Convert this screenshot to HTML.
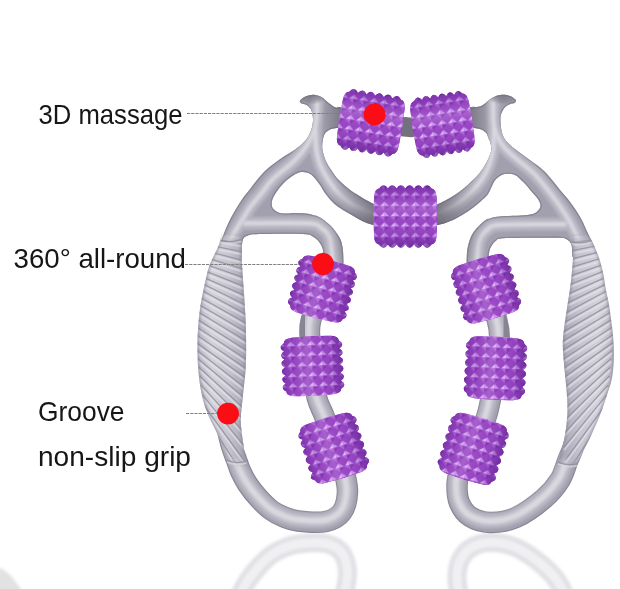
<!DOCTYPE html>
<html lang="en"><head><meta charset="utf-8"><title>Massage roller</title>
<style>html,body{margin:0;padding:0;background:#fff}body{width:620px;height:589px;overflow:hidden}svg{display:block}text{font-family:"Liberation Sans","DejaVu Sans",sans-serif;fill:#161616}</style></head><body>
<svg width="620" height="589" viewBox="0 0 620 589">
<defs>
<linearGradient id="gripgradL" x1="0" y1="0" x2="1" y2="0"><stop offset="0" stop-color="#b9b7c3"/><stop offset="0.28" stop-color="#d3d2da"/><stop offset="0.6" stop-color="#c6c4cf"/><stop offset="0.85" stop-color="#adabb9"/><stop offset="1" stop-color="#a09eac"/></linearGradient>
<linearGradient id="gripgradR" x1="1" y1="0" x2="0" y2="0"><stop offset="0" stop-color="#b9b7c3"/><stop offset="0.28" stop-color="#d3d2da"/><stop offset="0.6" stop-color="#c6c4cf"/><stop offset="0.85" stop-color="#adabb9"/><stop offset="1" stop-color="#a09eac"/></linearGradient>
<linearGradient id="gfade" gradientUnits="userSpaceOnUse" x1="0" y1="230" x2="0" y2="468"><stop offset="0" stop-color="#000"/><stop offset="0.012" stop-color="#000"/><stop offset="0.07" stop-color="#fff"/><stop offset="0.95" stop-color="#fff"/><stop offset="1" stop-color="#000"/></linearGradient>
<mask id="gripfade" maskUnits="userSpaceOnUse" x="180" y="220" width="440" height="260"><rect x="180" y="220" width="440" height="260" fill="url(#gfade)"/></mask>
<radialGradient id="udark" cx="0.5" cy="0.5" r="0.5"><stop offset="0" stop-color="#5e5c68" stop-opacity="0.75"/><stop offset="0.42" stop-color="#5e5c68" stop-opacity="0.7"/><stop offset="0.75" stop-color="#6a6874" stop-opacity="0.25"/><stop offset="1" stop-color="#6a6874" stop-opacity="0"/></radialGradient>
<radialGradient id="hdark" cx="0.5" cy="0.5" r="0.5"><stop offset="0" stop-color="#6a6874" stop-opacity="0.6"/><stop offset="0.6" stop-color="#6a6874" stop-opacity="0.35"/><stop offset="1" stop-color="#6a6874" stop-opacity="0"/></radialGradient>
<linearGradient id="stubL" x1="0" y1="0" x2="1" y2="0"><stop offset="0" stop-color="#65636f" stop-opacity="0"/><stop offset="0.8" stop-color="#65636f" stop-opacity="0.6"/><stop offset="1" stop-color="#65636f" stop-opacity="0.65"/></linearGradient>
<linearGradient id="stubR" x1="1" y1="0" x2="0" y2="0"><stop offset="0" stop-color="#65636f" stop-opacity="0"/><stop offset="0.8" stop-color="#65636f" stop-opacity="0.6"/><stop offset="1" stop-color="#65636f" stop-opacity="0.65"/></linearGradient>
<filter id="blur05" x="-10%" y="-10%" width="120%" height="120%"><feGaussianBlur stdDeviation="0.5"/></filter>
<filter id="soft" x="-5%" y="-5%" width="110%" height="110%"><feGaussianBlur stdDeviation="0.55"/></filter>
<filter id="blur1" x="-10%" y="-10%" width="120%" height="120%"><feGaussianBlur stdDeviation="1.3"/></filter>
<filter id="blur2" x="-10%" y="-10%" width="120%" height="120%"><feGaussianBlur stdDeviation="1.6"/></filter>
<pattern id="studs" x="-5.15" y="-5.15" width="10.30" height="10.30" patternUnits="userSpaceOnUse"><rect width="10.30" height="10.30" fill="#9643c0"/><path d="M5.15 0.4 L5.15 5.15 L0.4 5.15 Z" fill="#e5bdfb"/><path d="M5.15 0.4 L9.90 5.15 L5.15 5.15 Z" fill="#d098f0"/><path d="M0.4 5.15 L5.15 5.15 L5.15 9.90 Z" fill="#b462da"/><path d="M9.90 5.15 L5.15 9.90 L5.15 5.15 Z" fill="#8030ae"/></pattern>
<linearGradient id="cylh" x1="0" y1="0" x2="0" y2="1"><stop offset="0" stop-color="#5d2392" stop-opacity="0.55"/><stop offset="0.16" stop-color="#7d37af" stop-opacity="0.25"/><stop offset="0.38" stop-color="#e2c4f8" stop-opacity="0.22"/><stop offset="0.6" stop-color="#b57ee6" stop-opacity="0.05"/><stop offset="0.85" stop-color="#6a2a9e" stop-opacity="0.3"/><stop offset="1" stop-color="#521a84" stop-opacity="0.6"/></linearGradient>
<linearGradient id="cylv" x1="0" y1="0" x2="1" y2="0"><stop offset="0" stop-color="#5d2392" stop-opacity="0.5"/><stop offset="0.16" stop-color="#7d37af" stop-opacity="0.2"/><stop offset="0.42" stop-color="#e2c4f8" stop-opacity="0.22"/><stop offset="0.62" stop-color="#b57ee6" stop-opacity="0.05"/><stop offset="0.85" stop-color="#6a2a9e" stop-opacity="0.3"/><stop offset="1" stop-color="#521a84" stop-opacity="0.6"/></linearGradient>
</defs>
<rect width="620" height="589" fill="#ffffff"/>
<g filter="url(#blur2)" opacity="0.7">
<g transform="translate(0,1065) scale(1,-1)"><path d="M227.0 428.0 C227.8 431.0 229.9 440.7 231.5 446.0 C233.1 451.3 235.0 455.8 236.5 460.0 C238.0 464.2 238.7 467.0 240.5 471.0 C242.3 475.0 244.6 479.6 247.5 484.0 C250.4 488.4 254.1 493.2 258.0 497.5 C261.9 501.8 266.7 506.8 271.0 510.0 C275.3 513.2 279.5 515.2 284.0 517.0 C288.5 518.8 291.0 520.2 298.0 521.0 C305.0 521.8 318.7 523.0 326.0 521.5 C333.3 520.0 338.4 516.9 342.0 512.0 C345.6 507.1 347.2 499.0 347.5 492.0 C347.8 485.0 344.6 473.7 344.0 470.0" fill="none" stroke="#d4d3da" stroke-width="19" stroke-linecap="round"/><path d="M227.0 428.0 C227.8 431.0 229.9 440.7 231.5 446.0 C233.1 451.3 235.0 455.8 236.5 460.0 C238.0 464.2 238.7 467.0 240.5 471.0 C242.3 475.0 244.6 479.6 247.5 484.0 C250.4 488.4 254.1 493.2 258.0 497.5 C261.9 501.8 266.7 506.8 271.0 510.0 C275.3 513.2 279.5 515.2 284.0 517.0 C288.5 518.8 291.0 520.2 298.0 521.0 C305.0 521.8 318.7 523.0 326.0 521.5 C333.3 520.0 338.4 516.9 342.0 512.0 C345.6 507.1 347.2 499.0 347.5 492.0 C347.8 485.0 344.6 473.7 344.0 470.0" fill="none" stroke="#ebebef" stroke-width="9" stroke-linecap="round"/></g>
<g transform="translate(0,1065) scale(1,-1)"><path d="M578.0 432.0 C577.2 434.7 574.7 443.3 573.0 448.0 C571.3 452.7 570.2 454.7 568.0 460.0 C565.8 465.3 564.1 473.5 560.0 480.0 C555.9 486.5 550.8 492.8 543.5 499.0 C536.2 505.2 524.9 513.6 516.0 517.5 C507.1 521.4 497.7 522.7 490.0 522.5 C482.3 522.3 475.1 519.8 470.0 516.5 C464.9 513.2 461.7 508.2 459.5 503.0 C457.3 497.8 456.9 490.8 457.0 485.0 C457.1 479.2 459.5 470.8 460.0 468.0" fill="none" stroke="#d4d3da" stroke-width="19" stroke-linecap="round"/><path d="M578.0 432.0 C577.2 434.7 574.7 443.3 573.0 448.0 C571.3 452.7 570.2 454.7 568.0 460.0 C565.8 465.3 564.1 473.5 560.0 480.0 C555.9 486.5 550.8 492.8 543.5 499.0 C536.2 505.2 524.9 513.6 516.0 517.5 C507.1 521.4 497.7 522.7 490.0 522.5 C482.3 522.3 475.1 519.8 470.0 516.5 C464.9 513.2 461.7 508.2 459.5 503.0 C457.3 497.8 456.9 490.8 457.0 485.0 C457.1 479.2 459.5 470.8 460.0 468.0" fill="none" stroke="#ebebef" stroke-width="9" stroke-linecap="round"/></g>
</g>
<path d="M-2 591 L-2 567 Q10 571 22 591 Z" fill="#e2e2e2" filter="url(#blur2)"/>
<g filter="url(#soft)">
<path d="M336 116.5 L402 126.5 L411 127.5 L476 116" fill="none" stroke="#73717d" stroke-width="19.5"/>
<path d="M333.0 255.0 C331.2 260.8 325.7 279.2 322.0 290.0 C318.3 300.8 313.0 312.3 311.0 320.0 C309.0 327.7 309.6 328.3 309.8 336.0 C310.0 343.7 310.8 355.7 312.0 366.0 C313.2 376.3 314.8 389.3 317.0 398.0 C319.2 406.7 322.2 409.8 325.0 418.0 C327.8 426.2 331.0 438.3 334.0 447.0 C337.0 455.7 341.5 466.2 343.0 470.0" fill="none" stroke="#878593" stroke-width="21" stroke-linecap="butt"/>
<path d="M333.0 255.0 C331.2 260.8 325.7 279.2 322.0 290.0 C318.3 300.8 313.0 312.3 311.0 320.0 C309.0 327.7 309.6 328.3 309.8 336.0 C310.0 343.7 310.8 355.7 312.0 366.0 C313.2 376.3 314.8 389.3 317.0 398.0 C319.2 406.7 322.2 409.8 325.0 418.0 C327.8 426.2 331.0 438.3 334.0 447.0 C337.0 455.7 341.5 466.2 343.0 470.0" fill="none" stroke="#a2a0ae" stroke-width="18.8" stroke-linecap="butt" filter="url(#blur05)"/>
<g filter="url(#blur1)" transform="translate(-1,-1.5)"><path d="M333.0 255.0 C331.2 260.8 325.7 279.2 322.0 290.0 C318.3 300.8 313.0 312.3 311.0 320.0 C309.0 327.7 309.6 328.3 309.8 336.0 C310.0 343.7 310.8 355.7 312.0 366.0 C313.2 376.3 314.8 389.3 317.0 398.0 C319.2 406.7 322.2 409.8 325.0 418.0 C327.8 426.2 331.0 438.3 334.0 447.0 C337.0 455.7 341.5 466.2 343.0 470.0" fill="none" stroke="#b6b4c0" stroke-width="15" stroke-linecap="butt"/>
<path d="M333.0 255.0 C331.2 260.8 325.7 279.2 322.0 290.0 C318.3 300.8 313.0 312.3 311.0 320.0 C309.0 327.7 309.6 328.3 309.8 336.0 C310.0 343.7 310.8 355.7 312.0 366.0 C313.2 376.3 314.8 389.3 317.0 398.0 C319.2 406.7 322.2 409.8 325.0 418.0 C327.8 426.2 331.0 438.3 334.0 447.0 C337.0 455.7 341.5 466.2 343.0 470.0" fill="none" stroke="#cac8d2" stroke-width="8" stroke-linecap="butt"/>
<path d="M333.0 255.0 C331.2 260.8 325.7 279.2 322.0 290.0 C318.3 300.8 313.0 312.3 311.0 320.0 C309.0 327.7 309.6 328.3 309.8 336.0 C310.0 343.7 310.8 355.7 312.0 366.0 C313.2 376.3 314.8 389.3 317.0 398.0 C319.2 406.7 322.2 409.8 325.0 418.0 C327.8 426.2 331.0 438.3 334.0 447.0 C337.0 455.7 341.5 466.2 343.0 470.0" fill="none" stroke="#dad9e0" stroke-width="4" stroke-linecap="butt"/>
</g>
<path d="M227.0 428.0 C227.8 431.0 229.9 440.7 231.5 446.0 C233.1 451.3 235.0 455.8 236.5 460.0 C238.0 464.2 238.7 467.0 240.5 471.0 C242.3 475.0 244.6 479.6 247.5 484.0 C250.4 488.4 254.1 493.2 258.0 497.5 C261.9 501.8 266.7 506.8 271.0 510.0 C275.3 513.2 279.5 515.2 284.0 517.0 C288.5 518.8 291.0 520.2 298.0 521.0 C305.0 521.8 318.7 523.0 326.0 521.5 C333.3 520.0 338.4 516.9 342.0 512.0 C345.6 507.1 347.2 499.0 347.5 492.0 C347.8 485.0 344.6 473.7 344.0 470.0" fill="none" stroke="#878593" stroke-width="21.5" stroke-linecap="butt"/>
<path d="M227.0 428.0 C227.8 431.0 229.9 440.7 231.5 446.0 C233.1 451.3 235.0 455.8 236.5 460.0 C238.0 464.2 238.7 467.0 240.5 471.0 C242.3 475.0 244.6 479.6 247.5 484.0 C250.4 488.4 254.1 493.2 258.0 497.5 C261.9 501.8 266.7 506.8 271.0 510.0 C275.3 513.2 279.5 515.2 284.0 517.0 C288.5 518.8 291.0 520.2 298.0 521.0 C305.0 521.8 318.7 523.0 326.0 521.5 C333.3 520.0 338.4 516.9 342.0 512.0 C345.6 507.1 347.2 499.0 347.5 492.0 C347.8 485.0 344.6 473.7 344.0 470.0" fill="none" stroke="#a2a0ae" stroke-width="19.3" stroke-linecap="butt" filter="url(#blur05)"/>
<g filter="url(#blur1)" transform="translate(-1,-1.5)"><path d="M227.0 428.0 C227.8 431.0 229.9 440.7 231.5 446.0 C233.1 451.3 235.0 455.8 236.5 460.0 C238.0 464.2 238.7 467.0 240.5 471.0 C242.3 475.0 244.6 479.6 247.5 484.0 C250.4 488.4 254.1 493.2 258.0 497.5 C261.9 501.8 266.7 506.8 271.0 510.0 C275.3 513.2 279.5 515.2 284.0 517.0 C288.5 518.8 291.0 520.2 298.0 521.0 C305.0 521.8 318.7 523.0 326.0 521.5 C333.3 520.0 338.4 516.9 342.0 512.0 C345.6 507.1 347.2 499.0 347.5 492.0 C347.8 485.0 344.6 473.7 344.0 470.0" fill="none" stroke="#b6b4c0" stroke-width="15.5" stroke-linecap="butt"/>
<path d="M227.0 428.0 C227.8 431.0 229.9 440.7 231.5 446.0 C233.1 451.3 235.0 455.8 236.5 460.0 C238.0 464.2 238.7 467.0 240.5 471.0 C242.3 475.0 244.6 479.6 247.5 484.0 C250.4 488.4 254.1 493.2 258.0 497.5 C261.9 501.8 266.7 506.8 271.0 510.0 C275.3 513.2 279.5 515.2 284.0 517.0 C288.5 518.8 291.0 520.2 298.0 521.0 C305.0 521.8 318.7 523.0 326.0 521.5 C333.3 520.0 338.4 516.9 342.0 512.0 C345.6 507.1 347.2 499.0 347.5 492.0 C347.8 485.0 344.6 473.7 344.0 470.0" fill="none" stroke="#cac8d2" stroke-width="8.5" stroke-linecap="butt"/>
<path d="M227.0 428.0 C227.8 431.0 229.9 440.7 231.5 446.0 C233.1 451.3 235.0 455.8 236.5 460.0 C238.0 464.2 238.7 467.0 240.5 471.0 C242.3 475.0 244.6 479.6 247.5 484.0 C250.4 488.4 254.1 493.2 258.0 497.5 C261.9 501.8 266.7 506.8 271.0 510.0 C275.3 513.2 279.5 515.2 284.0 517.0 C288.5 518.8 291.0 520.2 298.0 521.0 C305.0 521.8 318.7 523.0 326.0 521.5 C333.3 520.0 338.4 516.9 342.0 512.0 C345.6 507.1 347.2 499.0 347.5 492.0 C347.8 485.0 344.6 473.7 344.0 470.0" fill="none" stroke="#dad9e0" stroke-width="4.5" stroke-linecap="butt"/>
</g>
<clipPath id="uc0"><path d="M342.0 107.5 C340.9 107.5 337.7 108.2 335.5 107.5 C333.3 106.8 331.4 105.0 329.0 103.2 C326.6 101.5 323.9 98.4 321.3 97.0 C318.7 95.6 316.1 94.8 313.5 94.7 C310.9 94.6 308.1 95.5 306.0 96.3 C303.9 97.1 302.2 98.4 301.2 99.3 C300.2 100.2 300.0 101.1 299.8 101.5 L299.8 101.5 C300.1 101.8 300.5 103.0 301.5 103.6 C302.5 104.1 304.4 103.8 306.0 104.8 C307.6 105.8 309.8 107.2 311.0 109.5 C312.2 111.8 312.9 115.5 313.0 118.7 C313.1 122.0 312.7 125.5 311.5 129.0 C310.3 132.6 308.8 136.5 306.0 140.0 C303.2 143.5 298.7 146.9 294.5 150.0 C290.3 153.1 286.1 154.8 281.0 158.5 C275.9 162.2 269.0 167.1 264.0 172.0 C259.0 176.9 254.8 183.1 250.9 188.0 C247.0 192.9 244.1 196.3 240.7 201.4 C237.3 206.5 233.4 213.1 230.5 218.7 C227.6 224.3 225.3 230.3 223.4 235.0 C221.5 239.7 220.4 243.2 219.0 247.0 C217.6 250.8 215.7 256.2 215.0 258.0 L215.0 258.0 C219.5 258.0 237.5 258.0 242.0 258.0 L242.0 258.0 C242.1 255.2 241.5 244.8 242.5 241.0 C243.5 237.2 244.8 236.7 248.0 235.5 C251.2 234.3 252.8 234.2 262.0 234.0 C271.2 233.8 294.4 233.5 303.0 234.0 C311.6 234.5 310.7 235.3 313.6 237.0 C316.5 238.7 318.8 241.2 320.5 243.9 C322.2 246.6 323.0 249.0 323.6 253.0 C324.2 257.0 323.9 265.5 324.0 268.0 L324.0 268.0 C327.2 268.0 340.2 268.0 343.4 268.0 L343.4 268.0 C343.4 266.8 343.5 263.9 343.4 260.7 C343.3 257.4 343.3 252.3 342.7 248.5 C342.1 244.7 341.7 241.6 339.6 237.8 C337.6 234.0 333.7 229.0 330.4 225.6 C327.1 222.2 322.9 219.2 320.0 217.4 C317.1 215.6 315.4 215.6 313.0 214.9 C310.6 214.2 308.7 213.7 305.8 213.4 C302.9 213.1 299.0 212.9 295.6 212.9 C292.2 212.9 288.4 213.5 285.5 213.4 C282.6 213.3 280.4 213.2 278.3 212.4 C276.2 211.6 274.3 210.2 273.2 208.8 C272.1 207.4 271.7 205.6 271.7 203.7 C271.7 201.8 272.1 200.0 273.2 197.6 C274.3 195.2 276.2 192.1 278.3 189.4 C280.4 186.7 282.9 183.7 285.5 181.3 C288.1 178.9 291.1 176.7 293.6 175.2 C296.1 173.7 298.5 172.5 300.7 172.1 C302.9 171.7 304.8 171.9 306.8 172.6 C308.9 173.3 310.9 174.2 313.0 176.2 C315.1 178.2 317.6 181.7 319.7 184.6 C321.8 187.5 323.1 190.5 325.3 193.5 C327.5 196.5 330.4 200.0 333.0 202.5 C335.6 205.0 337.2 206.2 340.8 208.5 C344.4 210.8 350.2 214.1 354.3 216.4 C358.4 218.7 361.4 220.7 365.7 222.5 C370.0 224.3 377.6 226.2 380.0 227.0 L380.0 227.0 C380.0 223.5 380.0 209.5 380.0 206.0 L380.0 206.0 C379.0 205.7 375.8 204.9 373.9 204.2 C372.0 203.5 371.0 202.8 368.8 201.6 C366.6 200.4 363.7 198.7 360.6 196.8 C357.6 194.9 354.1 193.1 350.5 190.3 C346.9 187.6 342.2 183.6 339.0 180.3 C335.8 177.0 333.8 173.8 331.5 170.4 C329.2 167.1 327.0 163.6 325.5 160.2 C324.0 156.8 323.0 152.7 322.5 150.0 C322.0 147.3 322.2 145.8 322.3 144.0 C322.4 142.2 322.6 140.8 323.0 139.0 C323.4 137.2 323.9 135.0 325.0 133.5 C326.1 132.0 327.8 130.7 329.5 129.8 C331.2 128.9 332.9 128.6 335.0 128.2 C337.1 127.8 340.8 127.6 342.0 127.5 Z"/></clipPath>
<path d="M342.0 107.5 C340.9 107.5 337.7 108.2 335.5 107.5 C333.3 106.8 331.4 105.0 329.0 103.2 C326.6 101.5 323.9 98.4 321.3 97.0 C318.7 95.6 316.1 94.8 313.5 94.7 C310.9 94.6 308.1 95.5 306.0 96.3 C303.9 97.1 302.2 98.4 301.2 99.3 C300.2 100.2 300.0 101.1 299.8 101.5 L299.8 101.5 C300.1 101.8 300.5 103.0 301.5 103.6 C302.5 104.1 304.4 103.8 306.0 104.8 C307.6 105.8 309.8 107.2 311.0 109.5 C312.2 111.8 312.9 115.5 313.0 118.7 C313.1 122.0 312.7 125.5 311.5 129.0 C310.3 132.6 308.8 136.5 306.0 140.0 C303.2 143.5 298.7 146.9 294.5 150.0 C290.3 153.1 286.1 154.8 281.0 158.5 C275.9 162.2 269.0 167.1 264.0 172.0 C259.0 176.9 254.8 183.1 250.9 188.0 C247.0 192.9 244.1 196.3 240.7 201.4 C237.3 206.5 233.4 213.1 230.5 218.7 C227.6 224.3 225.3 230.3 223.4 235.0 C221.5 239.7 220.4 243.2 219.0 247.0 C217.6 250.8 215.7 256.2 215.0 258.0 L215.0 258.0 C219.5 258.0 237.5 258.0 242.0 258.0 L242.0 258.0 C242.1 255.2 241.5 244.8 242.5 241.0 C243.5 237.2 244.8 236.7 248.0 235.5 C251.2 234.3 252.8 234.2 262.0 234.0 C271.2 233.8 294.4 233.5 303.0 234.0 C311.6 234.5 310.7 235.3 313.6 237.0 C316.5 238.7 318.8 241.2 320.5 243.9 C322.2 246.6 323.0 249.0 323.6 253.0 C324.2 257.0 323.9 265.5 324.0 268.0 L324.0 268.0 C327.2 268.0 340.2 268.0 343.4 268.0 L343.4 268.0 C343.4 266.8 343.5 263.9 343.4 260.7 C343.3 257.4 343.3 252.3 342.7 248.5 C342.1 244.7 341.7 241.6 339.6 237.8 C337.6 234.0 333.7 229.0 330.4 225.6 C327.1 222.2 322.9 219.2 320.0 217.4 C317.1 215.6 315.4 215.6 313.0 214.9 C310.6 214.2 308.7 213.7 305.8 213.4 C302.9 213.1 299.0 212.9 295.6 212.9 C292.2 212.9 288.4 213.5 285.5 213.4 C282.6 213.3 280.4 213.2 278.3 212.4 C276.2 211.6 274.3 210.2 273.2 208.8 C272.1 207.4 271.7 205.6 271.7 203.7 C271.7 201.8 272.1 200.0 273.2 197.6 C274.3 195.2 276.2 192.1 278.3 189.4 C280.4 186.7 282.9 183.7 285.5 181.3 C288.1 178.9 291.1 176.7 293.6 175.2 C296.1 173.7 298.5 172.5 300.7 172.1 C302.9 171.7 304.8 171.9 306.8 172.6 C308.9 173.3 310.9 174.2 313.0 176.2 C315.1 178.2 317.6 181.7 319.7 184.6 C321.8 187.5 323.1 190.5 325.3 193.5 C327.5 196.5 330.4 200.0 333.0 202.5 C335.6 205.0 337.2 206.2 340.8 208.5 C344.4 210.8 350.2 214.1 354.3 216.4 C358.4 218.7 361.4 220.7 365.7 222.5 C370.0 224.3 377.6 226.2 380.0 227.0 L380.0 227.0 C380.0 223.5 380.0 209.5 380.0 206.0 L380.0 206.0 C379.0 205.7 375.8 204.9 373.9 204.2 C372.0 203.5 371.0 202.8 368.8 201.6 C366.6 200.4 363.7 198.7 360.6 196.8 C357.6 194.9 354.1 193.1 350.5 190.3 C346.9 187.6 342.2 183.6 339.0 180.3 C335.8 177.0 333.8 173.8 331.5 170.4 C329.2 167.1 327.0 163.6 325.5 160.2 C324.0 156.8 323.0 152.7 322.5 150.0 C322.0 147.3 322.2 145.8 322.3 144.0 C322.4 142.2 322.6 140.8 323.0 139.0 C323.4 137.2 323.9 135.0 325.0 133.5 C326.1 132.0 327.8 130.7 329.5 129.8 C331.2 128.9 332.9 128.6 335.0 128.2 C337.1 127.8 340.8 127.6 342.0 127.5 Z" fill="#a2a0ae"/>
<g clip-path="url(#uc0)"><path d="M342.0 107.5 C340.9 107.5 337.7 108.2 335.5 107.5 C333.3 106.8 331.4 105.0 329.0 103.2 C326.6 101.5 323.9 98.4 321.3 97.0 C318.7 95.6 316.1 94.8 313.5 94.7 C310.9 94.6 308.1 95.5 306.0 96.3 C303.9 97.1 302.2 98.4 301.2 99.3 C300.2 100.2 300.0 101.1 299.8 101.5 L299.8 101.5 C300.1 101.8 300.5 103.0 301.5 103.6 C302.5 104.1 304.4 103.8 306.0 104.8 C307.6 105.8 309.8 107.2 311.0 109.5 C312.2 111.8 312.9 115.5 313.0 118.7 C313.1 122.0 312.7 125.5 311.5 129.0 C310.3 132.6 308.8 136.5 306.0 140.0 C303.2 143.5 298.7 146.9 294.5 150.0 C290.3 153.1 286.1 154.8 281.0 158.5 C275.9 162.2 269.0 167.1 264.0 172.0 C259.0 176.9 254.8 183.1 250.9 188.0 C247.0 192.9 244.1 196.3 240.7 201.4 C237.3 206.5 233.4 213.1 230.5 218.7 C227.6 224.3 225.3 230.3 223.4 235.0 C221.5 239.7 220.4 243.2 219.0 247.0 C217.6 250.8 215.7 256.2 215.0 258.0 L215.0 258.0 C219.5 258.0 237.5 258.0 242.0 258.0 L242.0 258.0 C242.1 255.2 241.5 244.8 242.5 241.0 C243.5 237.2 244.8 236.7 248.0 235.5 C251.2 234.3 252.8 234.2 262.0 234.0 C271.2 233.8 294.4 233.5 303.0 234.0 C311.6 234.5 310.7 235.3 313.6 237.0 C316.5 238.7 318.8 241.2 320.5 243.9 C322.2 246.6 323.0 249.0 323.6 253.0 C324.2 257.0 323.9 265.5 324.0 268.0 L324.0 268.0 C327.2 268.0 340.2 268.0 343.4 268.0 L343.4 268.0 C343.4 266.8 343.5 263.9 343.4 260.7 C343.3 257.4 343.3 252.3 342.7 248.5 C342.1 244.7 341.7 241.6 339.6 237.8 C337.6 234.0 333.7 229.0 330.4 225.6 C327.1 222.2 322.9 219.2 320.0 217.4 C317.1 215.6 315.4 215.6 313.0 214.9 C310.6 214.2 308.7 213.7 305.8 213.4 C302.9 213.1 299.0 212.9 295.6 212.9 C292.2 212.9 288.4 213.5 285.5 213.4 C282.6 213.3 280.4 213.2 278.3 212.4 C276.2 211.6 274.3 210.2 273.2 208.8 C272.1 207.4 271.7 205.6 271.7 203.7 C271.7 201.8 272.1 200.0 273.2 197.6 C274.3 195.2 276.2 192.1 278.3 189.4 C280.4 186.7 282.9 183.7 285.5 181.3 C288.1 178.9 291.1 176.7 293.6 175.2 C296.1 173.7 298.5 172.5 300.7 172.1 C302.9 171.7 304.8 171.9 306.8 172.6 C308.9 173.3 310.9 174.2 313.0 176.2 C315.1 178.2 317.6 181.7 319.7 184.6 C321.8 187.5 323.1 190.5 325.3 193.5 C327.5 196.5 330.4 200.0 333.0 202.5 C335.6 205.0 337.2 206.2 340.8 208.5 C344.4 210.8 350.2 214.1 354.3 216.4 C358.4 218.7 361.4 220.7 365.7 222.5 C370.0 224.3 377.6 226.2 380.0 227.0 L380.0 227.0 C380.0 223.5 380.0 209.5 380.0 206.0 L380.0 206.0 C379.0 205.7 375.8 204.9 373.9 204.2 C372.0 203.5 371.0 202.8 368.8 201.6 C366.6 200.4 363.7 198.7 360.6 196.8 C357.6 194.9 354.1 193.1 350.5 190.3 C346.9 187.6 342.2 183.6 339.0 180.3 C335.8 177.0 333.8 173.8 331.5 170.4 C329.2 167.1 327.0 163.6 325.5 160.2 C324.0 156.8 323.0 152.7 322.5 150.0 C322.0 147.3 322.2 145.8 322.3 144.0 C322.4 142.2 322.6 140.8 323.0 139.0 C323.4 137.2 323.9 135.0 325.0 133.5 C326.1 132.0 327.8 130.7 329.5 129.8 C331.2 128.9 332.9 128.6 335.0 128.2 C337.1 127.8 340.8 127.6 342.0 127.5 Z" fill="none" stroke="#878593" stroke-width="2.6" filter="url(#blur05)"/><g filter="url(#blur1)" transform="translate(-0.8,-1.2)">
<path d="M318.0 104.0 C317.7 108.0 317.7 121.0 316.0 128.0 C314.3 135.0 311.5 140.3 308.0 146.0 C304.5 151.7 300.8 156.2 295.0 162.0 C289.2 167.8 278.5 175.5 273.0 181.0 C267.5 186.5 265.5 190.7 262.0 195.0 C258.5 199.3 255.2 202.7 252.0 207.0 C248.8 211.3 245.8 216.5 243.0 221.0 C240.2 225.5 237.3 229.8 235.0 234.0 C232.7 238.2 230.0 244.0 229.0 246.0" fill="none" stroke="#b6b4c0" stroke-width="13" stroke-linecap="round"/>
<path d="M316.0 128.0 C316.2 131.7 316.2 143.7 317.0 150.0 C317.8 156.3 319.0 160.8 321.0 166.0 C323.0 171.2 325.8 176.2 329.0 181.0 C332.2 185.8 335.7 190.8 340.0 195.0 C344.3 199.2 348.3 202.9 355.0 206.5 C361.7 210.1 375.8 214.8 380.0 216.5" fill="none" stroke="#b6b4c0" stroke-width="13" stroke-linecap="round"/>
<path d="M246.0 224.5 C256.3 224.5 295.3 223.8 308.0 224.5 C320.7 225.2 318.2 226.4 322.0 229.0 C325.8 231.6 329.1 233.8 331.0 240.0 C332.9 246.2 333.2 261.7 333.7 266.0" fill="none" stroke="#b6b4c0" stroke-width="13" stroke-linecap="round"/>
<path d="M318.0 104.0 C317.7 108.0 317.7 121.0 316.0 128.0 C314.3 135.0 311.5 140.3 308.0 146.0 C304.5 151.7 300.8 156.2 295.0 162.0 C289.2 167.8 278.5 175.5 273.0 181.0 C267.5 186.5 265.5 190.7 262.0 195.0 C258.5 199.3 255.2 202.7 252.0 207.0 C248.8 211.3 245.8 216.5 243.0 221.0 C240.2 225.5 237.3 229.8 235.0 234.0 C232.7 238.2 230.0 244.0 229.0 246.0" fill="none" stroke="#cac8d2" stroke-width="6" stroke-linecap="round"/>
<path d="M316.0 128.0 C316.2 131.7 316.2 143.7 317.0 150.0 C317.8 156.3 319.0 160.8 321.0 166.0 C323.0 171.2 325.8 176.2 329.0 181.0 C332.2 185.8 335.7 190.8 340.0 195.0 C344.3 199.2 348.3 202.9 355.0 206.5 C361.7 210.1 375.8 214.8 380.0 216.5" fill="none" stroke="#cac8d2" stroke-width="6" stroke-linecap="round"/>
<path d="M246.0 224.5 C256.3 224.5 295.3 223.8 308.0 224.5 C320.7 225.2 318.2 226.4 322.0 229.0 C325.8 231.6 329.1 233.8 331.0 240.0 C332.9 246.2 333.2 261.7 333.7 266.0" fill="none" stroke="#cac8d2" stroke-width="6" stroke-linecap="round"/>
<path d="M318.0 104.0 C317.7 108.0 317.7 121.0 316.0 128.0 C314.3 135.0 311.5 140.3 308.0 146.0 C304.5 151.7 300.8 156.2 295.0 162.0 C289.2 167.8 278.5 175.5 273.0 181.0 C267.5 186.5 265.5 190.7 262.0 195.0 C258.5 199.3 255.2 202.7 252.0 207.0 C248.8 211.3 245.8 216.5 243.0 221.0 C240.2 225.5 237.3 229.8 235.0 234.0 C232.7 238.2 230.0 244.0 229.0 246.0" fill="none" stroke="#dad9e0" stroke-width="2.5" stroke-linecap="round"/>
<path d="M316.0 128.0 C316.2 131.7 316.2 143.7 317.0 150.0 C317.8 156.3 319.0 160.8 321.0 166.0 C323.0 171.2 325.8 176.2 329.0 181.0 C332.2 185.8 335.7 190.8 340.0 195.0 C344.3 199.2 348.3 202.9 355.0 206.5 C361.7 210.1 375.8 214.8 380.0 216.5" fill="none" stroke="#dad9e0" stroke-width="2.5" stroke-linecap="round"/>
<path d="M246.0 224.5 C256.3 224.5 295.3 223.8 308.0 224.5 C320.7 225.2 318.2 226.4 322.0 229.0 C325.8 231.6 329.1 233.8 331.0 240.0 C332.9 246.2 333.2 261.7 333.7 266.0" fill="none" stroke="#dad9e0" stroke-width="2.5" stroke-linecap="round"/>
</g><circle cx="405.5" cy="222" r="80" fill="url(#udark)"/><ellipse cx="311" cy="96" rx="17" ry="9" fill="url(#hdark)"/><rect x="322" y="100" width="22" height="34" fill="url(#stubL)"/></g>
<clipPath id="gc0"><path d="M222.0 232.0 C221.4 234.2 220.7 239.8 218.6 245.4 C216.5 251.0 211.8 258.9 209.4 265.7 C207.0 272.5 205.8 279.2 204.3 286.0 C202.8 292.8 201.3 299.7 200.3 306.5 C199.3 313.3 198.7 320.4 198.2 326.8 C197.7 333.2 197.5 338.5 197.5 345.0 C197.5 351.5 197.5 358.8 198.0 366.0 C198.5 373.2 199.4 381.5 200.5 388.0 C201.6 394.5 202.8 399.7 204.5 405.0 C206.2 410.3 207.8 414.1 210.5 420.0 C213.2 425.9 217.7 433.9 220.5 440.7 C223.3 447.5 225.9 456.1 227.6 461.0 C229.3 465.9 230.0 468.5 230.5 470.0 L250.0 470.0 C249.3 468.5 247.2 465.9 246.0 461.0 C244.8 456.1 243.8 447.5 242.9 440.7 C242.0 433.9 240.8 427.6 240.8 420.0 C240.8 412.4 242.2 404.0 243.0 395.0 C243.8 386.0 245.3 376.5 245.8 366.0 C246.3 355.5 246.2 343.3 246.0 332.0 C245.8 320.7 245.0 309.3 244.3 298.0 C243.6 286.7 242.5 272.8 242.0 264.0 C241.5 255.2 241.7 250.3 241.5 245.0 C241.3 239.7 241.1 234.2 241.0 232.0Z"/></clipPath>
<g mask="url(#gripfade)">
<path d="M222.0 232.0 C221.4 234.2 220.7 239.8 218.6 245.4 C216.5 251.0 211.8 258.9 209.4 265.7 C207.0 272.5 205.8 279.2 204.3 286.0 C202.8 292.8 201.3 299.7 200.3 306.5 C199.3 313.3 198.7 320.4 198.2 326.8 C197.7 333.2 197.5 338.5 197.5 345.0 C197.5 351.5 197.5 358.8 198.0 366.0 C198.5 373.2 199.4 381.5 200.5 388.0 C201.6 394.5 202.8 399.7 204.5 405.0 C206.2 410.3 207.8 414.1 210.5 420.0 C213.2 425.9 217.7 433.9 220.5 440.7 C223.3 447.5 225.9 456.1 227.6 461.0 C229.3 465.9 230.0 468.5 230.5 470.0 L250.0 470.0 C249.3 468.5 247.2 465.9 246.0 461.0 C244.8 456.1 243.8 447.5 242.9 440.7 C242.0 433.9 240.8 427.6 240.8 420.0 C240.8 412.4 242.2 404.0 243.0 395.0 C243.8 386.0 245.3 376.5 245.8 366.0 C246.3 355.5 246.2 343.3 246.0 332.0 C245.8 320.7 245.0 309.3 244.3 298.0 C243.6 286.7 242.5 272.8 242.0 264.0 C241.5 255.2 241.7 250.3 241.5 245.0 C241.3 239.7 241.1 234.2 241.0 232.0Z" fill="url(#gripgradL)"/>
<g clip-path="url(#gc0)"><g filter="url(#blur05)">
<path d="M189.8 226.3 L257.7 231.3 M190.0 232.4 L257.5 239.8 M190.1 238.6 L257.4 248.4 M190.4 244.2 L257.1 257.5 M190.8 249.9 L256.7 266.6 M191.2 255.9 L256.3 275.7 M191.6 262.3 L255.9 284.6 M192.1 268.7 L255.4 293.6 M192.7 275.3 L254.8 302.8 M193.3 282.0 L254.2 312.0 M193.8 289.0 L253.7 321.2 M194.1 296.8 L253.4 330.0 M194.4 304.7 L253.1 338.9 M194.7 312.6 L252.8 347.9 M195.0 320.7 L252.5 356.9 M195.3 328.8 L252.2 366.0 M195.6 337.0 L251.9 375.3 M196.1 345.2 L251.4 384.7 M196.9 353.1 L250.6 394.8 M197.7 361.3 L249.8 405.1 M198.7 369.7 L248.8 415.7 M199.7 378.6 L247.8 426.6 M200.9 387.7 L246.6 438.1 M202.2 397.4 L245.3 450.1 M203.7 407.8 L243.8 462.8 M205.1 419.3 L242.4 476.2 M206.1 432.0 L241.4 490.1 M207.2 445.4 L240.3 504.8" stroke="#e6e5eb" stroke-width="2.2" fill="none" opacity="0.6"/>
<path d="M189.8 223.5 L257.7 228.5 M190.0 229.6 L257.5 237.0 M190.1 235.8 L257.4 245.6 M190.4 241.4 L257.1 254.7 M190.8 247.1 L256.7 263.8 M191.2 253.1 L256.3 272.9 M191.6 259.5 L255.9 281.8 M192.1 265.9 L255.4 290.8 M192.7 272.5 L254.8 300.0 M193.3 279.2 L254.2 309.2 M193.8 286.2 L253.7 318.4 M194.1 294.0 L253.4 327.2 M194.4 301.9 L253.1 336.1 M194.7 309.8 L252.8 345.1 M195.0 317.9 L252.5 354.1 M195.3 326.0 L252.2 363.2 M195.6 334.2 L251.9 372.5 M196.1 342.4 L251.4 381.9 M196.9 350.3 L250.6 392.0 M197.7 358.5 L249.8 402.3 M198.7 366.9 L248.8 412.9 M199.7 375.8 L247.8 423.8 M200.9 384.9 L246.6 435.3 M202.2 394.6 L245.3 447.3 M203.7 405.0 L243.8 460.0 M205.1 416.5 L242.4 473.4 M206.1 429.2 L241.4 487.3 M207.2 442.6 L240.3 502.0" stroke="#8f8d9c" stroke-width="1.3" fill="none" opacity="0.8"/>
</g>
<path d="M222.0 232.0 C221.4 234.2 220.7 239.8 218.6 245.4 C216.5 251.0 211.8 258.9 209.4 265.7 C207.0 272.5 205.8 279.2 204.3 286.0 C202.8 292.8 201.3 299.7 200.3 306.5 C199.3 313.3 198.7 320.4 198.2 326.8 C197.7 333.2 197.5 338.5 197.5 345.0 C197.5 351.5 197.5 358.8 198.0 366.0 C198.5 373.2 199.4 381.5 200.5 388.0 C201.6 394.5 202.8 399.7 204.5 405.0 C206.2 410.3 207.8 414.1 210.5 420.0 C213.2 425.9 217.7 433.9 220.5 440.7 C223.3 447.5 225.9 456.1 227.6 461.0 C229.3 465.9 230.0 468.5 230.5 470.0 L250.0 470.0 C249.3 468.5 247.2 465.9 246.0 461.0 C244.8 456.1 243.8 447.5 242.9 440.7 C242.0 433.9 240.8 427.6 240.8 420.0 C240.8 412.4 242.2 404.0 243.0 395.0 C243.8 386.0 245.3 376.5 245.8 366.0 C246.3 355.5 246.2 343.3 246.0 332.0 C245.8 320.7 245.0 309.3 244.3 298.0 C243.6 286.7 242.5 272.8 242.0 264.0 C241.5 255.2 241.7 250.3 241.5 245.0 C241.3 239.7 241.1 234.2 241.0 232.0Z" fill="none" stroke="#878593" stroke-width="3" opacity="0.6" filter="url(#blur1)"/>
</g>
</g>
<path d="M477.5 250.0 C477.8 253.3 478.1 263.7 479.5 270.0 C480.9 276.3 483.1 279.7 486.0 288.0 C488.9 296.3 494.8 311.8 497.0 320.0 C499.2 328.2 499.5 329.2 499.5 337.0 C499.5 344.8 498.5 356.5 497.0 367.0 C495.5 377.5 492.3 391.5 490.5 400.0 C488.7 408.5 488.8 410.2 486.0 418.0 C483.2 425.8 477.5 438.3 473.5 447.0 C469.5 455.7 463.9 466.2 462.0 470.0" fill="none" stroke="#878593" stroke-width="21" stroke-linecap="butt"/>
<path d="M477.5 250.0 C477.8 253.3 478.1 263.7 479.5 270.0 C480.9 276.3 483.1 279.7 486.0 288.0 C488.9 296.3 494.8 311.8 497.0 320.0 C499.2 328.2 499.5 329.2 499.5 337.0 C499.5 344.8 498.5 356.5 497.0 367.0 C495.5 377.5 492.3 391.5 490.5 400.0 C488.7 408.5 488.8 410.2 486.0 418.0 C483.2 425.8 477.5 438.3 473.5 447.0 C469.5 455.7 463.9 466.2 462.0 470.0" fill="none" stroke="#a2a0ae" stroke-width="18.8" stroke-linecap="butt" filter="url(#blur05)"/>
<g filter="url(#blur1)" transform="translate(-1,-1.5)"><path d="M477.5 250.0 C477.8 253.3 478.1 263.7 479.5 270.0 C480.9 276.3 483.1 279.7 486.0 288.0 C488.9 296.3 494.8 311.8 497.0 320.0 C499.2 328.2 499.5 329.2 499.5 337.0 C499.5 344.8 498.5 356.5 497.0 367.0 C495.5 377.5 492.3 391.5 490.5 400.0 C488.7 408.5 488.8 410.2 486.0 418.0 C483.2 425.8 477.5 438.3 473.5 447.0 C469.5 455.7 463.9 466.2 462.0 470.0" fill="none" stroke="#b6b4c0" stroke-width="15" stroke-linecap="butt"/>
<path d="M477.5 250.0 C477.8 253.3 478.1 263.7 479.5 270.0 C480.9 276.3 483.1 279.7 486.0 288.0 C488.9 296.3 494.8 311.8 497.0 320.0 C499.2 328.2 499.5 329.2 499.5 337.0 C499.5 344.8 498.5 356.5 497.0 367.0 C495.5 377.5 492.3 391.5 490.5 400.0 C488.7 408.5 488.8 410.2 486.0 418.0 C483.2 425.8 477.5 438.3 473.5 447.0 C469.5 455.7 463.9 466.2 462.0 470.0" fill="none" stroke="#cac8d2" stroke-width="8" stroke-linecap="butt"/>
<path d="M477.5 250.0 C477.8 253.3 478.1 263.7 479.5 270.0 C480.9 276.3 483.1 279.7 486.0 288.0 C488.9 296.3 494.8 311.8 497.0 320.0 C499.2 328.2 499.5 329.2 499.5 337.0 C499.5 344.8 498.5 356.5 497.0 367.0 C495.5 377.5 492.3 391.5 490.5 400.0 C488.7 408.5 488.8 410.2 486.0 418.0 C483.2 425.8 477.5 438.3 473.5 447.0 C469.5 455.7 463.9 466.2 462.0 470.0" fill="none" stroke="#dad9e0" stroke-width="4" stroke-linecap="butt"/>
</g>
<path d="M578.0 432.0 C577.2 434.7 574.7 443.3 573.0 448.0 C571.3 452.7 570.2 454.7 568.0 460.0 C565.8 465.3 564.1 473.5 560.0 480.0 C555.9 486.5 550.8 492.8 543.5 499.0 C536.2 505.2 524.9 513.6 516.0 517.5 C507.1 521.4 497.7 522.7 490.0 522.5 C482.3 522.3 475.1 519.8 470.0 516.5 C464.9 513.2 461.7 508.2 459.5 503.0 C457.3 497.8 456.9 490.8 457.0 485.0 C457.1 479.2 459.5 470.8 460.0 468.0" fill="none" stroke="#878593" stroke-width="21.5" stroke-linecap="butt"/>
<path d="M578.0 432.0 C577.2 434.7 574.7 443.3 573.0 448.0 C571.3 452.7 570.2 454.7 568.0 460.0 C565.8 465.3 564.1 473.5 560.0 480.0 C555.9 486.5 550.8 492.8 543.5 499.0 C536.2 505.2 524.9 513.6 516.0 517.5 C507.1 521.4 497.7 522.7 490.0 522.5 C482.3 522.3 475.1 519.8 470.0 516.5 C464.9 513.2 461.7 508.2 459.5 503.0 C457.3 497.8 456.9 490.8 457.0 485.0 C457.1 479.2 459.5 470.8 460.0 468.0" fill="none" stroke="#a2a0ae" stroke-width="19.3" stroke-linecap="butt" filter="url(#blur05)"/>
<g filter="url(#blur1)" transform="translate(-1,-1.5)"><path d="M578.0 432.0 C577.2 434.7 574.7 443.3 573.0 448.0 C571.3 452.7 570.2 454.7 568.0 460.0 C565.8 465.3 564.1 473.5 560.0 480.0 C555.9 486.5 550.8 492.8 543.5 499.0 C536.2 505.2 524.9 513.6 516.0 517.5 C507.1 521.4 497.7 522.7 490.0 522.5 C482.3 522.3 475.1 519.8 470.0 516.5 C464.9 513.2 461.7 508.2 459.5 503.0 C457.3 497.8 456.9 490.8 457.0 485.0 C457.1 479.2 459.5 470.8 460.0 468.0" fill="none" stroke="#b6b4c0" stroke-width="15.5" stroke-linecap="butt"/>
<path d="M578.0 432.0 C577.2 434.7 574.7 443.3 573.0 448.0 C571.3 452.7 570.2 454.7 568.0 460.0 C565.8 465.3 564.1 473.5 560.0 480.0 C555.9 486.5 550.8 492.8 543.5 499.0 C536.2 505.2 524.9 513.6 516.0 517.5 C507.1 521.4 497.7 522.7 490.0 522.5 C482.3 522.3 475.1 519.8 470.0 516.5 C464.9 513.2 461.7 508.2 459.5 503.0 C457.3 497.8 456.9 490.8 457.0 485.0 C457.1 479.2 459.5 470.8 460.0 468.0" fill="none" stroke="#cac8d2" stroke-width="8.5" stroke-linecap="butt"/>
<path d="M578.0 432.0 C577.2 434.7 574.7 443.3 573.0 448.0 C571.3 452.7 570.2 454.7 568.0 460.0 C565.8 465.3 564.1 473.5 560.0 480.0 C555.9 486.5 550.8 492.8 543.5 499.0 C536.2 505.2 524.9 513.6 516.0 517.5 C507.1 521.4 497.7 522.7 490.0 522.5 C482.3 522.3 475.1 519.8 470.0 516.5 C464.9 513.2 461.7 508.2 459.5 503.0 C457.3 497.8 456.9 490.8 457.0 485.0 C457.1 479.2 459.5 470.8 460.0 468.0" fill="none" stroke="#dad9e0" stroke-width="4.5" stroke-linecap="butt"/>
</g>
<clipPath id="uc1"><path d="M469.0 107.5 C470.0 107.5 472.9 107.5 475.0 107.2 C477.1 106.9 479.4 106.9 481.7 105.8 C483.9 104.7 486.0 102.1 488.5 100.4 C491.0 98.7 494.0 96.8 496.7 95.8 C499.4 94.8 502.4 94.6 504.8 94.7 C507.2 94.8 509.5 95.7 511.2 96.5 C512.9 97.3 514.4 98.5 515.2 99.3 C516.0 100.1 515.9 101.0 516.0 101.3 L516.0 101.3 C515.8 101.6 515.4 102.5 514.5 103.0 C513.6 103.5 512.1 103.2 510.5 104.0 C508.9 104.8 506.4 105.6 504.8 107.5 C503.2 109.4 501.5 112.2 500.8 115.3 C500.1 118.4 500.4 122.6 500.8 126.2 C501.2 129.8 501.9 133.8 503.5 137.0 C505.1 140.2 507.1 142.2 510.3 145.2 C513.5 148.1 517.3 150.8 522.5 154.7 C527.7 158.6 536.6 164.5 541.5 168.7 C546.4 172.9 548.9 176.4 552.0 180.0 C555.1 183.6 557.1 186.5 560.2 190.2 C563.3 193.9 567.0 197.8 570.4 202.4 C573.8 207.0 577.5 212.3 580.5 217.7 C583.5 223.1 586.5 230.4 588.7 235.0 C590.9 239.6 592.0 241.3 593.5 245.0 C595.0 248.7 597.2 255.0 598.0 257.0 L598.0 257.0 C593.8 257.0 576.8 257.0 572.5 257.0 L572.5 257.0 C572.3 255.0 572.4 247.9 571.5 245.0 C570.6 242.1 568.9 240.7 567.0 239.5 C565.1 238.3 564.2 238.1 560.0 237.8 C555.8 237.5 551.0 237.7 541.5 237.8 C532.0 237.9 510.6 237.8 503.0 238.3 C495.4 238.8 497.9 239.5 496.0 240.8 C494.1 242.1 492.7 244.0 491.5 246.0 C490.3 248.0 489.6 249.3 489.0 253.0 C488.4 256.7 488.2 265.5 488.0 268.0 L488.0 268.0 C484.4 268.0 470.1 268.0 466.5 268.0 L466.5 268.0 C466.5 266.5 466.5 262.5 466.7 259.0 C466.9 255.5 466.8 251.3 467.8 247.0 C468.8 242.7 470.1 237.5 472.9 233.2 C475.6 228.9 481.4 223.4 484.3 221.0 C487.2 218.6 488.2 219.2 490.0 218.5 C491.8 217.8 492.6 217.3 495.1 216.9 C497.7 216.5 501.1 216.2 505.3 215.9 C509.5 215.7 515.9 215.7 520.5 215.4 C525.1 215.1 529.9 214.7 532.8 213.9 C535.7 213.1 536.6 212.0 537.9 210.8 C539.2 209.6 540.1 208.2 540.4 206.8 C540.7 205.5 540.5 204.2 539.9 202.7 C539.3 201.2 538.3 199.6 536.8 197.6 C535.3 195.6 532.9 193.1 530.7 190.5 C528.5 187.9 526.1 184.9 523.6 182.3 C521.1 179.8 518.0 176.6 515.5 175.2 C513.0 173.8 510.7 173.7 508.3 173.7 C505.9 173.7 503.4 174.1 501.2 175.2 C499.0 176.3 496.7 178.3 495.1 180.3 C493.5 182.3 492.8 184.6 491.5 187.0 C490.2 189.4 489.3 192.4 487.5 194.8 C485.7 197.2 482.9 199.3 480.5 201.5 C478.1 203.7 475.5 205.9 473.0 207.8 C470.5 209.7 468.6 211.0 465.7 212.8 C462.8 214.6 458.9 217.1 455.5 218.8 C452.1 220.5 448.5 221.9 445.4 223.0 C442.3 224.1 439.1 224.5 436.7 225.3 C434.3 226.1 431.9 227.6 431.0 228.0 L431.0 228.0 C431.0 224.5 431.0 210.5 431.0 207.0 L431.0 207.0 C431.9 206.7 433.8 206.1 436.2 205.0 C438.6 203.9 442.2 202.3 445.4 200.6 C448.6 198.9 452.1 196.9 455.5 194.6 C458.9 192.3 462.9 189.2 465.7 186.8 C468.5 184.5 470.2 182.7 472.5 180.5 C474.8 178.3 477.1 176.1 479.3 173.4 C481.5 170.7 483.8 167.2 485.5 164.3 C487.2 161.4 488.5 158.4 489.5 156.0 C490.5 153.6 491.1 152.2 491.3 150.0 C491.5 147.8 490.9 144.8 490.5 143.0 C490.1 141.2 489.5 140.6 488.8 139.0 C488.1 137.4 487.6 135.0 486.5 133.5 C485.4 132.0 483.8 130.7 482.0 129.8 C480.2 128.9 478.2 128.6 476.0 128.2 C473.8 127.8 470.2 127.6 469.0 127.5 Z"/></clipPath>
<path d="M469.0 107.5 C470.0 107.5 472.9 107.5 475.0 107.2 C477.1 106.9 479.4 106.9 481.7 105.8 C483.9 104.7 486.0 102.1 488.5 100.4 C491.0 98.7 494.0 96.8 496.7 95.8 C499.4 94.8 502.4 94.6 504.8 94.7 C507.2 94.8 509.5 95.7 511.2 96.5 C512.9 97.3 514.4 98.5 515.2 99.3 C516.0 100.1 515.9 101.0 516.0 101.3 L516.0 101.3 C515.8 101.6 515.4 102.5 514.5 103.0 C513.6 103.5 512.1 103.2 510.5 104.0 C508.9 104.8 506.4 105.6 504.8 107.5 C503.2 109.4 501.5 112.2 500.8 115.3 C500.1 118.4 500.4 122.6 500.8 126.2 C501.2 129.8 501.9 133.8 503.5 137.0 C505.1 140.2 507.1 142.2 510.3 145.2 C513.5 148.1 517.3 150.8 522.5 154.7 C527.7 158.6 536.6 164.5 541.5 168.7 C546.4 172.9 548.9 176.4 552.0 180.0 C555.1 183.6 557.1 186.5 560.2 190.2 C563.3 193.9 567.0 197.8 570.4 202.4 C573.8 207.0 577.5 212.3 580.5 217.7 C583.5 223.1 586.5 230.4 588.7 235.0 C590.9 239.6 592.0 241.3 593.5 245.0 C595.0 248.7 597.2 255.0 598.0 257.0 L598.0 257.0 C593.8 257.0 576.8 257.0 572.5 257.0 L572.5 257.0 C572.3 255.0 572.4 247.9 571.5 245.0 C570.6 242.1 568.9 240.7 567.0 239.5 C565.1 238.3 564.2 238.1 560.0 237.8 C555.8 237.5 551.0 237.7 541.5 237.8 C532.0 237.9 510.6 237.8 503.0 238.3 C495.4 238.8 497.9 239.5 496.0 240.8 C494.1 242.1 492.7 244.0 491.5 246.0 C490.3 248.0 489.6 249.3 489.0 253.0 C488.4 256.7 488.2 265.5 488.0 268.0 L488.0 268.0 C484.4 268.0 470.1 268.0 466.5 268.0 L466.5 268.0 C466.5 266.5 466.5 262.5 466.7 259.0 C466.9 255.5 466.8 251.3 467.8 247.0 C468.8 242.7 470.1 237.5 472.9 233.2 C475.6 228.9 481.4 223.4 484.3 221.0 C487.2 218.6 488.2 219.2 490.0 218.5 C491.8 217.8 492.6 217.3 495.1 216.9 C497.7 216.5 501.1 216.2 505.3 215.9 C509.5 215.7 515.9 215.7 520.5 215.4 C525.1 215.1 529.9 214.7 532.8 213.9 C535.7 213.1 536.6 212.0 537.9 210.8 C539.2 209.6 540.1 208.2 540.4 206.8 C540.7 205.5 540.5 204.2 539.9 202.7 C539.3 201.2 538.3 199.6 536.8 197.6 C535.3 195.6 532.9 193.1 530.7 190.5 C528.5 187.9 526.1 184.9 523.6 182.3 C521.1 179.8 518.0 176.6 515.5 175.2 C513.0 173.8 510.7 173.7 508.3 173.7 C505.9 173.7 503.4 174.1 501.2 175.2 C499.0 176.3 496.7 178.3 495.1 180.3 C493.5 182.3 492.8 184.6 491.5 187.0 C490.2 189.4 489.3 192.4 487.5 194.8 C485.7 197.2 482.9 199.3 480.5 201.5 C478.1 203.7 475.5 205.9 473.0 207.8 C470.5 209.7 468.6 211.0 465.7 212.8 C462.8 214.6 458.9 217.1 455.5 218.8 C452.1 220.5 448.5 221.9 445.4 223.0 C442.3 224.1 439.1 224.5 436.7 225.3 C434.3 226.1 431.9 227.6 431.0 228.0 L431.0 228.0 C431.0 224.5 431.0 210.5 431.0 207.0 L431.0 207.0 C431.9 206.7 433.8 206.1 436.2 205.0 C438.6 203.9 442.2 202.3 445.4 200.6 C448.6 198.9 452.1 196.9 455.5 194.6 C458.9 192.3 462.9 189.2 465.7 186.8 C468.5 184.5 470.2 182.7 472.5 180.5 C474.8 178.3 477.1 176.1 479.3 173.4 C481.5 170.7 483.8 167.2 485.5 164.3 C487.2 161.4 488.5 158.4 489.5 156.0 C490.5 153.6 491.1 152.2 491.3 150.0 C491.5 147.8 490.9 144.8 490.5 143.0 C490.1 141.2 489.5 140.6 488.8 139.0 C488.1 137.4 487.6 135.0 486.5 133.5 C485.4 132.0 483.8 130.7 482.0 129.8 C480.2 128.9 478.2 128.6 476.0 128.2 C473.8 127.8 470.2 127.6 469.0 127.5 Z" fill="#a2a0ae"/>
<g clip-path="url(#uc1)"><path d="M469.0 107.5 C470.0 107.5 472.9 107.5 475.0 107.2 C477.1 106.9 479.4 106.9 481.7 105.8 C483.9 104.7 486.0 102.1 488.5 100.4 C491.0 98.7 494.0 96.8 496.7 95.8 C499.4 94.8 502.4 94.6 504.8 94.7 C507.2 94.8 509.5 95.7 511.2 96.5 C512.9 97.3 514.4 98.5 515.2 99.3 C516.0 100.1 515.9 101.0 516.0 101.3 L516.0 101.3 C515.8 101.6 515.4 102.5 514.5 103.0 C513.6 103.5 512.1 103.2 510.5 104.0 C508.9 104.8 506.4 105.6 504.8 107.5 C503.2 109.4 501.5 112.2 500.8 115.3 C500.1 118.4 500.4 122.6 500.8 126.2 C501.2 129.8 501.9 133.8 503.5 137.0 C505.1 140.2 507.1 142.2 510.3 145.2 C513.5 148.1 517.3 150.8 522.5 154.7 C527.7 158.6 536.6 164.5 541.5 168.7 C546.4 172.9 548.9 176.4 552.0 180.0 C555.1 183.6 557.1 186.5 560.2 190.2 C563.3 193.9 567.0 197.8 570.4 202.4 C573.8 207.0 577.5 212.3 580.5 217.7 C583.5 223.1 586.5 230.4 588.7 235.0 C590.9 239.6 592.0 241.3 593.5 245.0 C595.0 248.7 597.2 255.0 598.0 257.0 L598.0 257.0 C593.8 257.0 576.8 257.0 572.5 257.0 L572.5 257.0 C572.3 255.0 572.4 247.9 571.5 245.0 C570.6 242.1 568.9 240.7 567.0 239.5 C565.1 238.3 564.2 238.1 560.0 237.8 C555.8 237.5 551.0 237.7 541.5 237.8 C532.0 237.9 510.6 237.8 503.0 238.3 C495.4 238.8 497.9 239.5 496.0 240.8 C494.1 242.1 492.7 244.0 491.5 246.0 C490.3 248.0 489.6 249.3 489.0 253.0 C488.4 256.7 488.2 265.5 488.0 268.0 L488.0 268.0 C484.4 268.0 470.1 268.0 466.5 268.0 L466.5 268.0 C466.5 266.5 466.5 262.5 466.7 259.0 C466.9 255.5 466.8 251.3 467.8 247.0 C468.8 242.7 470.1 237.5 472.9 233.2 C475.6 228.9 481.4 223.4 484.3 221.0 C487.2 218.6 488.2 219.2 490.0 218.5 C491.8 217.8 492.6 217.3 495.1 216.9 C497.7 216.5 501.1 216.2 505.3 215.9 C509.5 215.7 515.9 215.7 520.5 215.4 C525.1 215.1 529.9 214.7 532.8 213.9 C535.7 213.1 536.6 212.0 537.9 210.8 C539.2 209.6 540.1 208.2 540.4 206.8 C540.7 205.5 540.5 204.2 539.9 202.7 C539.3 201.2 538.3 199.6 536.8 197.6 C535.3 195.6 532.9 193.1 530.7 190.5 C528.5 187.9 526.1 184.9 523.6 182.3 C521.1 179.8 518.0 176.6 515.5 175.2 C513.0 173.8 510.7 173.7 508.3 173.7 C505.9 173.7 503.4 174.1 501.2 175.2 C499.0 176.3 496.7 178.3 495.1 180.3 C493.5 182.3 492.8 184.6 491.5 187.0 C490.2 189.4 489.3 192.4 487.5 194.8 C485.7 197.2 482.9 199.3 480.5 201.5 C478.1 203.7 475.5 205.9 473.0 207.8 C470.5 209.7 468.6 211.0 465.7 212.8 C462.8 214.6 458.9 217.1 455.5 218.8 C452.1 220.5 448.5 221.9 445.4 223.0 C442.3 224.1 439.1 224.5 436.7 225.3 C434.3 226.1 431.9 227.6 431.0 228.0 L431.0 228.0 C431.0 224.5 431.0 210.5 431.0 207.0 L431.0 207.0 C431.9 206.7 433.8 206.1 436.2 205.0 C438.6 203.9 442.2 202.3 445.4 200.6 C448.6 198.9 452.1 196.9 455.5 194.6 C458.9 192.3 462.9 189.2 465.7 186.8 C468.5 184.5 470.2 182.7 472.5 180.5 C474.8 178.3 477.1 176.1 479.3 173.4 C481.5 170.7 483.8 167.2 485.5 164.3 C487.2 161.4 488.5 158.4 489.5 156.0 C490.5 153.6 491.1 152.2 491.3 150.0 C491.5 147.8 490.9 144.8 490.5 143.0 C490.1 141.2 489.5 140.6 488.8 139.0 C488.1 137.4 487.6 135.0 486.5 133.5 C485.4 132.0 483.8 130.7 482.0 129.8 C480.2 128.9 478.2 128.6 476.0 128.2 C473.8 127.8 470.2 127.6 469.0 127.5 Z" fill="none" stroke="#878593" stroke-width="2.6" filter="url(#blur05)"/><g filter="url(#blur1)" transform="translate(-0.8,-1.2)">
<path d="M494.0 104.0 C494.2 108.0 493.5 121.0 495.0 128.0 C496.5 135.0 499.5 140.8 503.0 146.0 C506.5 151.2 510.8 154.3 516.0 159.0 C521.2 163.7 528.8 169.0 534.0 174.0 C539.2 179.0 542.8 183.8 547.0 189.0 C551.2 194.2 555.2 199.5 559.0 205.0 C562.8 210.5 566.7 216.2 570.0 222.0 C573.3 227.8 577.5 237.0 579.0 240.0" fill="none" stroke="#b6b4c0" stroke-width="13" stroke-linecap="round"/>
<path d="M495.0 128.0 C494.8 131.7 494.8 143.7 494.0 150.0 C493.2 156.3 491.8 161.0 490.0 166.0 C488.2 171.0 486.0 175.5 483.0 180.0 C480.0 184.5 476.5 188.7 472.0 193.0 C467.5 197.3 462.8 201.9 456.0 206.0 C449.2 210.1 435.2 215.6 431.0 217.5" fill="none" stroke="#b6b4c0" stroke-width="13" stroke-linecap="round"/>
<path d="M565.0 225.5 C554.5 225.6 514.8 225.1 502.0 226.0 C489.2 226.9 491.7 228.3 488.0 231.0 C484.3 233.7 481.8 236.2 480.0 242.0 C478.2 247.8 477.9 262.0 477.5 266.0" fill="none" stroke="#b6b4c0" stroke-width="13" stroke-linecap="round"/>
<path d="M494.0 104.0 C494.2 108.0 493.5 121.0 495.0 128.0 C496.5 135.0 499.5 140.8 503.0 146.0 C506.5 151.2 510.8 154.3 516.0 159.0 C521.2 163.7 528.8 169.0 534.0 174.0 C539.2 179.0 542.8 183.8 547.0 189.0 C551.2 194.2 555.2 199.5 559.0 205.0 C562.8 210.5 566.7 216.2 570.0 222.0 C573.3 227.8 577.5 237.0 579.0 240.0" fill="none" stroke="#cac8d2" stroke-width="6" stroke-linecap="round"/>
<path d="M495.0 128.0 C494.8 131.7 494.8 143.7 494.0 150.0 C493.2 156.3 491.8 161.0 490.0 166.0 C488.2 171.0 486.0 175.5 483.0 180.0 C480.0 184.5 476.5 188.7 472.0 193.0 C467.5 197.3 462.8 201.9 456.0 206.0 C449.2 210.1 435.2 215.6 431.0 217.5" fill="none" stroke="#cac8d2" stroke-width="6" stroke-linecap="round"/>
<path d="M565.0 225.5 C554.5 225.6 514.8 225.1 502.0 226.0 C489.2 226.9 491.7 228.3 488.0 231.0 C484.3 233.7 481.8 236.2 480.0 242.0 C478.2 247.8 477.9 262.0 477.5 266.0" fill="none" stroke="#cac8d2" stroke-width="6" stroke-linecap="round"/>
<path d="M494.0 104.0 C494.2 108.0 493.5 121.0 495.0 128.0 C496.5 135.0 499.5 140.8 503.0 146.0 C506.5 151.2 510.8 154.3 516.0 159.0 C521.2 163.7 528.8 169.0 534.0 174.0 C539.2 179.0 542.8 183.8 547.0 189.0 C551.2 194.2 555.2 199.5 559.0 205.0 C562.8 210.5 566.7 216.2 570.0 222.0 C573.3 227.8 577.5 237.0 579.0 240.0" fill="none" stroke="#dad9e0" stroke-width="2.5" stroke-linecap="round"/>
<path d="M495.0 128.0 C494.8 131.7 494.8 143.7 494.0 150.0 C493.2 156.3 491.8 161.0 490.0 166.0 C488.2 171.0 486.0 175.5 483.0 180.0 C480.0 184.5 476.5 188.7 472.0 193.0 C467.5 197.3 462.8 201.9 456.0 206.0 C449.2 210.1 435.2 215.6 431.0 217.5" fill="none" stroke="#dad9e0" stroke-width="2.5" stroke-linecap="round"/>
<path d="M565.0 225.5 C554.5 225.6 514.8 225.1 502.0 226.0 C489.2 226.9 491.7 228.3 488.0 231.0 C484.3 233.7 481.8 236.2 480.0 242.0 C478.2 247.8 477.9 262.0 477.5 266.0" fill="none" stroke="#dad9e0" stroke-width="2.5" stroke-linecap="round"/>
</g><circle cx="405.5" cy="222" r="80" fill="url(#udark)"/><ellipse cx="504" cy="96" rx="17" ry="9" fill="url(#hdark)"/><rect x="467" y="100" width="22" height="34" fill="url(#stubR)"/></g>
<clipPath id="gc1"><path d="M588.0 234.0 C588.6 235.0 589.8 236.5 591.5 240.0 C593.2 243.5 596.1 249.8 598.0 255.0 C599.9 260.2 601.5 265.9 602.8 271.5 C604.1 277.1 604.6 282.9 605.6 288.5 C606.6 294.1 607.9 298.2 609.0 305.0 C610.1 311.8 611.5 322.3 612.3 329.0 C613.1 335.7 613.4 339.8 613.6 345.0 C613.9 350.2 614.1 354.5 613.8 360.0 C613.5 365.5 613.1 372.2 612.0 378.0 C610.9 383.8 609.0 388.8 607.0 395.0 C605.0 401.2 602.6 408.3 600.0 415.0 C597.4 421.7 594.3 428.5 591.3 435.0 C588.3 441.5 584.2 449.2 581.8 454.0 C579.4 458.8 577.8 462.3 577.0 464.0 L557.0 464.0 C557.6 462.3 559.1 458.8 560.4 454.0 C561.7 449.2 563.8 442.2 565.0 435.0 C566.2 427.8 567.3 418.9 567.5 411.0 C567.7 403.1 566.9 395.3 566.3 387.5 C565.7 379.7 564.6 371.1 564.0 364.0 C563.4 356.9 562.8 350.8 562.8 345.0 C562.8 339.2 563.2 335.7 564.0 329.0 C564.8 322.3 566.3 313.0 567.5 305.0 C568.7 297.0 570.1 289.0 571.0 281.0 C571.9 273.0 572.8 263.0 573.0 257.0 C573.2 251.0 572.8 248.8 572.5 245.0 C572.2 241.2 571.2 235.8 571.0 234.0Z"/></clipPath>
<g mask="url(#gripfade)">
<path d="M588.0 234.0 C588.6 235.0 589.8 236.5 591.5 240.0 C593.2 243.5 596.1 249.8 598.0 255.0 C599.9 260.2 601.5 265.9 602.8 271.5 C604.1 277.1 604.6 282.9 605.6 288.5 C606.6 294.1 607.9 298.2 609.0 305.0 C610.1 311.8 611.5 322.3 612.3 329.0 C613.1 335.7 613.4 339.8 613.6 345.0 C613.9 350.2 614.1 354.5 613.8 360.0 C613.5 365.5 613.1 372.2 612.0 378.0 C610.9 383.8 609.0 388.8 607.0 395.0 C605.0 401.2 602.6 408.3 600.0 415.0 C597.4 421.7 594.3 428.5 591.3 435.0 C588.3 441.5 584.2 449.2 581.8 454.0 C579.4 458.8 577.8 462.3 577.0 464.0 L557.0 464.0 C557.6 462.3 559.1 458.8 560.4 454.0 C561.7 449.2 563.8 442.2 565.0 435.0 C566.2 427.8 567.3 418.9 567.5 411.0 C567.7 403.1 566.9 395.3 566.3 387.5 C565.7 379.7 564.6 371.1 564.0 364.0 C563.4 356.9 562.8 350.8 562.8 345.0 C562.8 339.2 563.2 335.7 564.0 329.0 C564.8 322.3 566.3 313.0 567.5 305.0 C568.7 297.0 570.1 289.0 571.0 281.0 C571.9 273.0 572.8 263.0 573.0 257.0 C573.2 251.0 572.8 248.8 572.5 245.0 C572.2 241.2 571.2 235.8 571.0 234.0Z" fill="url(#gripgradR)"/>
<g clip-path="url(#gc1)"><g filter="url(#blur05)">
<path d="M551.5 231.3 L619.3 226.3 M551.6 239.8 L619.2 232.4 M551.8 248.4 L619.0 238.6 M552.0 257.5 L618.8 244.2 M552.4 266.6 L618.4 249.9 M552.9 275.7 L617.9 255.9 M553.3 284.6 L617.5 262.3 M553.8 293.6 L617.0 268.7 M554.3 302.8 L616.5 275.3 M554.9 312.0 L615.9 282.0 M555.5 321.2 L615.3 289.0 M555.7 330.0 L615.1 296.8 M556.0 338.9 L614.8 304.7 M556.3 347.9 L614.5 312.6 M556.6 356.9 L614.2 320.7 M557.0 366.0 L613.8 328.8 M557.3 375.3 L613.5 337.0 M557.7 384.7 L613.1 345.2 M558.5 394.8 L612.3 353.1 M559.4 405.1 L611.4 361.3 M560.3 415.7 L610.5 369.7 M561.3 426.6 L609.5 378.6 M562.6 438.1 L608.2 387.7 M563.9 450.1 L606.9 397.4 M565.4 462.8 L605.4 407.8 M566.8 476.2 L604.0 419.3 M567.8 490.1 L603.0 432.0 M568.8 504.8 L602.0 445.4" stroke="#e6e5eb" stroke-width="2.2" fill="none" opacity="0.6"/>
<path d="M551.5 228.5 L619.3 223.5 M551.6 237.0 L619.2 229.6 M551.8 245.6 L619.0 235.8 M552.0 254.7 L618.8 241.4 M552.4 263.8 L618.4 247.1 M552.9 272.9 L617.9 253.1 M553.3 281.8 L617.5 259.5 M553.8 290.8 L617.0 265.9 M554.3 300.0 L616.5 272.5 M554.9 309.2 L615.9 279.2 M555.5 318.4 L615.3 286.2 M555.7 327.2 L615.1 294.0 M556.0 336.1 L614.8 301.9 M556.3 345.1 L614.5 309.8 M556.6 354.1 L614.2 317.9 M557.0 363.2 L613.8 326.0 M557.3 372.5 L613.5 334.2 M557.7 381.9 L613.1 342.4 M558.5 392.0 L612.3 350.3 M559.4 402.3 L611.4 358.5 M560.3 412.9 L610.5 366.9 M561.3 423.8 L609.5 375.8 M562.6 435.3 L608.2 384.9 M563.9 447.3 L606.9 394.6 M565.4 460.0 L605.4 405.0 M566.8 473.4 L604.0 416.5 M567.8 487.3 L603.0 429.2 M568.8 502.0 L602.0 442.6" stroke="#8f8d9c" stroke-width="1.3" fill="none" opacity="0.8"/>
</g>
<path d="M588.0 234.0 C588.6 235.0 589.8 236.5 591.5 240.0 C593.2 243.5 596.1 249.8 598.0 255.0 C599.9 260.2 601.5 265.9 602.8 271.5 C604.1 277.1 604.6 282.9 605.6 288.5 C606.6 294.1 607.9 298.2 609.0 305.0 C610.1 311.8 611.5 322.3 612.3 329.0 C613.1 335.7 613.4 339.8 613.6 345.0 C613.9 350.2 614.1 354.5 613.8 360.0 C613.5 365.5 613.1 372.2 612.0 378.0 C610.9 383.8 609.0 388.8 607.0 395.0 C605.0 401.2 602.6 408.3 600.0 415.0 C597.4 421.7 594.3 428.5 591.3 435.0 C588.3 441.5 584.2 449.2 581.8 454.0 C579.4 458.8 577.8 462.3 577.0 464.0 L557.0 464.0 C557.6 462.3 559.1 458.8 560.4 454.0 C561.7 449.2 563.8 442.2 565.0 435.0 C566.2 427.8 567.3 418.9 567.5 411.0 C567.7 403.1 566.9 395.3 566.3 387.5 C565.7 379.7 564.6 371.1 564.0 364.0 C563.4 356.9 562.8 350.8 562.8 345.0 C562.8 339.2 563.2 335.7 564.0 329.0 C564.8 322.3 566.3 313.0 567.5 305.0 C568.7 297.0 570.1 289.0 571.0 281.0 C571.9 273.0 572.8 263.0 573.0 257.0 C573.2 251.0 572.8 248.8 572.5 245.0 C572.2 241.2 571.2 235.8 571.0 234.0Z" fill="none" stroke="#878593" stroke-width="3" opacity="0.6" filter="url(#blur1)"/>
</g>
</g>
<path d="M227.0 460.0 Q236.0 464.5 246.5 461.0" fill="none" stroke="#8d8b9a" stroke-width="1.3" opacity="0.8"/>
<path d="M227.0 462.0 Q236.0 466.5 246.5 463.0" fill="none" stroke="#d8d7df" stroke-width="1.6" opacity="0.7"/>
<path d="M558.0 462.0 Q567.5 466.5 577.5 463.5" fill="none" stroke="#8d8b9a" stroke-width="1.3" opacity="0.8"/>
<path d="M558.0 464.0 Q567.5 468.5 577.5 465.5" fill="none" stroke="#d8d7df" stroke-width="1.6" opacity="0.7"/>
<path d="M220.5 240.5 Q230.5 243.0 241.5 239.5" fill="none" stroke="#8d8b9a" stroke-width="1.3" opacity="0.8"/>
<path d="M220.5 242.5 Q230.5 245.0 241.5 241.5" fill="none" stroke="#d8d7df" stroke-width="1.6" opacity="0.7"/>
<path d="M571.5 241.5 Q581.0 244.5 591.5 240.5" fill="none" stroke="#8d8b9a" stroke-width="1.3" opacity="0.8"/>
<path d="M571.5 243.5 Q581.0 246.5 591.5 242.5" fill="none" stroke="#d8d7df" stroke-width="1.6" opacity="0.7"/>
<g stroke="#808080" stroke-width="1" stroke-dasharray="3.2 1" fill="none"><line x1="187" y1="113.5" x2="342" y2="113.5"/><line x1="185" y1="264.5" x2="312" y2="264.5"/><line x1="186" y1="413.5" x2="218" y2="413.5"/></g>
<g transform="translate(370.8 122.8) rotate(9)"><clipPath id="rc0"><path d="M-31.2 -18.9 Q-30.8 -26.9 -26.1 -27.4 Q-21.8 -33.9 -17.4 -27.4 Q-13.1 -33.9 -8.7 -27.4 Q-4.4 -33.9 0.0 -27.4 Q4.4 -33.9 8.7 -27.4 Q13.1 -33.9 17.4 -27.4 Q21.8 -33.9 26.2 -27.4 Q30.8 -26.9 31.2 -18.9 Q32.5 0.0 31.2 18.9 Q30.8 26.9 26.1 27.4 Q21.8 33.9 17.4 27.4 Q13.1 33.9 8.7 27.4 Q4.4 33.9 -0.0 27.4 Q-4.4 33.9 -8.7 27.4 Q-13.1 33.9 -17.4 27.4 Q-21.8 33.9 -26.2 27.4 Q-30.8 26.9 -31.2 18.9 Q-32.5 0.0 -31.2 -18.9 Z"/></clipPath><path d="M-31.2 -18.9 Q-30.8 -26.9 -26.1 -27.4 Q-21.8 -33.9 -17.4 -27.4 Q-13.1 -33.9 -8.7 -27.4 Q-4.4 -33.9 0.0 -27.4 Q4.4 -33.9 8.7 -27.4 Q13.1 -33.9 17.4 -27.4 Q21.8 -33.9 26.2 -27.4 Q30.8 -26.9 31.2 -18.9 Q32.5 0.0 31.2 18.9 Q30.8 26.9 26.1 27.4 Q21.8 33.9 17.4 27.4 Q13.1 33.9 8.7 27.4 Q4.4 33.9 -0.0 27.4 Q-4.4 33.9 -8.7 27.4 Q-13.1 33.9 -17.4 27.4 Q-21.8 33.9 -26.2 27.4 Q-30.8 26.9 -31.2 18.9 Q-32.5 0.0 -31.2 -18.9 Z" fill="#aa58d0"/><g clip-path="url(#rc0)"><rect x="-36" y="-36" width="72" height="72" fill="url(#studs)"/><rect x="-33.2" y="-30.5" width="66.5" height="61.0" fill="url(#cylh)"/></g></g>
<g transform="translate(442.5 124.5) rotate(-9)"><clipPath id="rc1"><path d="M-29.5 -18.9 Q-29.0 -26.9 -24.4 -27.4 Q-20.3 -33.9 -16.3 -27.4 Q-12.2 -33.9 -8.1 -27.4 Q-4.1 -33.9 0.0 -27.4 Q4.1 -33.9 8.1 -27.4 Q12.2 -33.9 16.3 -27.4 Q20.3 -33.9 24.4 -27.4 Q29.0 -26.9 29.5 -18.9 Q30.7 0.0 29.5 18.9 Q29.0 26.9 24.4 27.4 Q20.3 33.9 16.3 27.4 Q12.2 33.9 8.1 27.4 Q4.1 33.9 0.0 27.4 Q-4.1 33.9 -8.1 27.4 Q-12.2 33.9 -16.3 27.4 Q-20.3 33.9 -24.4 27.4 Q-29.0 26.9 -29.5 18.9 Q-30.7 0.0 -29.5 -18.9 Z"/></clipPath><path d="M-29.5 -18.9 Q-29.0 -26.9 -24.4 -27.4 Q-20.3 -33.9 -16.3 -27.4 Q-12.2 -33.9 -8.1 -27.4 Q-4.1 -33.9 0.0 -27.4 Q4.1 -33.9 8.1 -27.4 Q12.2 -33.9 16.3 -27.4 Q20.3 -33.9 24.4 -27.4 Q29.0 -26.9 29.5 -18.9 Q30.7 0.0 29.5 18.9 Q29.0 26.9 24.4 27.4 Q20.3 33.9 16.3 27.4 Q12.2 33.9 8.1 27.4 Q4.1 33.9 0.0 27.4 Q-4.1 33.9 -8.1 27.4 Q-12.2 33.9 -16.3 27.4 Q-20.3 33.9 -24.4 27.4 Q-29.0 26.9 -29.5 18.9 Q-30.7 0.0 -29.5 -18.9 Z" fill="#aa58d0"/><g clip-path="url(#rc1)"><rect x="-36" y="-36" width="72" height="72" fill="url(#studs)"/><rect x="-31.5" y="-30.5" width="63.0" height="61.0" fill="url(#cylh)"/></g></g>
<g transform="translate(405.3 216.5) rotate(0)"><clipPath id="rc2"><path d="M-31.2 -19.4 Q-30.8 -27.4 -26.1 -27.9 Q-21.8 -34.4 -17.4 -27.9 Q-13.1 -34.4 -8.7 -27.9 Q-4.4 -34.4 0.0 -27.9 Q4.4 -34.4 8.7 -27.9 Q13.1 -34.4 17.4 -27.9 Q21.8 -34.4 26.2 -27.9 Q30.8 -27.4 31.2 -19.4 Q32.5 0.0 31.2 19.4 Q30.8 27.4 26.1 27.9 Q21.8 34.4 17.4 27.9 Q13.1 34.4 8.7 27.9 Q4.4 34.4 -0.0 27.9 Q-4.4 34.4 -8.7 27.9 Q-13.1 34.4 -17.4 27.9 Q-21.8 34.4 -26.2 27.9 Q-30.8 27.4 -31.2 19.4 Q-32.5 0.0 -31.2 -19.4 Z"/></clipPath><path d="M-31.2 -19.4 Q-30.8 -27.4 -26.1 -27.9 Q-21.8 -34.4 -17.4 -27.9 Q-13.1 -34.4 -8.7 -27.9 Q-4.4 -34.4 0.0 -27.9 Q4.4 -34.4 8.7 -27.9 Q13.1 -34.4 17.4 -27.9 Q21.8 -34.4 26.2 -27.9 Q30.8 -27.4 31.2 -19.4 Q32.5 0.0 31.2 19.4 Q30.8 27.4 26.1 27.9 Q21.8 34.4 17.4 27.9 Q13.1 34.4 8.7 27.9 Q4.4 34.4 -0.0 27.9 Q-4.4 34.4 -8.7 27.9 Q-13.1 34.4 -17.4 27.9 Q-21.8 34.4 -26.2 27.9 Q-30.8 27.4 -31.2 19.4 Q-32.5 0.0 -31.2 -19.4 Z" fill="#aa58d0"/><g clip-path="url(#rc2)"><rect x="-36" y="-36" width="72" height="72" fill="url(#studs)"/><rect x="-33.2" y="-31.0" width="66.5" height="62.0" fill="url(#cylh)"/></g></g>
<g transform="translate(322.5 289.0) rotate(15)"><clipPath id="rc3"><path d="M-29.2 -18.6 Q-28.8 -26.6 -24.1 -27.1 Q-20.1 -33.7 -16.1 -27.1 Q-12.1 -33.7 -8.1 -27.1 Q-4.0 -33.7 -0.0 -27.1 Q4.0 -33.7 8.0 -27.1 Q12.1 -33.7 16.1 -27.1 Q20.1 -33.7 24.1 -27.1 Q28.8 -26.6 29.2 -18.6 Q30.4 0.0 29.2 18.6 Q28.8 26.6 24.1 27.1 Q20.1 33.7 16.1 27.1 Q12.1 33.7 8.1 27.1 Q4.0 33.7 0.0 27.1 Q-4.0 33.7 -8.0 27.1 Q-12.1 33.7 -16.1 27.1 Q-20.1 33.7 -24.1 27.1 Q-28.8 26.6 -29.2 18.6 Q-30.4 0.0 -29.2 -18.6 Z" transform="rotate(90)"/></clipPath><path d="M-29.2 -18.6 Q-28.8 -26.6 -24.1 -27.1 Q-20.1 -33.7 -16.1 -27.1 Q-12.1 -33.7 -8.1 -27.1 Q-4.0 -33.7 -0.0 -27.1 Q4.0 -33.7 8.0 -27.1 Q12.1 -33.7 16.1 -27.1 Q20.1 -33.7 24.1 -27.1 Q28.8 -26.6 29.2 -18.6 Q30.4 0.0 29.2 18.6 Q28.8 26.6 24.1 27.1 Q20.1 33.7 16.1 27.1 Q12.1 33.7 8.1 27.1 Q4.0 33.7 0.0 27.1 Q-4.0 33.7 -8.0 27.1 Q-12.1 33.7 -16.1 27.1 Q-20.1 33.7 -24.1 27.1 Q-28.8 26.6 -29.2 18.6 Q-30.4 0.0 -29.2 -18.6 Z" transform="rotate(90)" fill="#aa58d0"/><g clip-path="url(#rc3)"><rect x="-36" y="-36" width="72" height="72" fill="url(#studs)"/><rect x="-30.2" y="-31.2" width="60.5" height="62.5" fill="url(#cylv)"/></g></g>
<g transform="translate(312.5 366.0) rotate(-3)"><clipPath id="rc4"><path d="M-29.2 -19.1 Q-28.8 -27.1 -24.1 -27.6 Q-20.1 -34.2 -16.1 -27.6 Q-12.1 -34.2 -8.1 -27.6 Q-4.0 -34.2 -0.0 -27.6 Q4.0 -34.2 8.0 -27.6 Q12.1 -34.2 16.1 -27.6 Q20.1 -34.2 24.1 -27.6 Q28.8 -27.1 29.2 -19.1 Q30.4 0.0 29.2 19.1 Q28.8 27.1 24.1 27.6 Q20.1 34.2 16.1 27.6 Q12.1 34.2 8.1 27.6 Q4.0 34.2 0.0 27.6 Q-4.0 34.2 -8.0 27.6 Q-12.1 34.2 -16.1 27.6 Q-20.1 34.2 -24.1 27.6 Q-28.8 27.1 -29.2 19.1 Q-30.4 0.0 -29.2 -19.1 Z" transform="rotate(90)"/></clipPath><path d="M-29.2 -19.1 Q-28.8 -27.1 -24.1 -27.6 Q-20.1 -34.2 -16.1 -27.6 Q-12.1 -34.2 -8.1 -27.6 Q-4.0 -34.2 -0.0 -27.6 Q4.0 -34.2 8.0 -27.6 Q12.1 -34.2 16.1 -27.6 Q20.1 -34.2 24.1 -27.6 Q28.8 -27.1 29.2 -19.1 Q30.4 0.0 29.2 19.1 Q28.8 27.1 24.1 27.6 Q20.1 34.2 16.1 27.6 Q12.1 34.2 8.1 27.6 Q4.0 34.2 0.0 27.6 Q-4.0 34.2 -8.0 27.6 Q-12.1 34.2 -16.1 27.6 Q-20.1 34.2 -24.1 27.6 Q-28.8 27.1 -29.2 19.1 Q-30.4 0.0 -29.2 -19.1 Z" transform="rotate(90)" fill="#aa58d0"/><g clip-path="url(#rc4)"><rect x="-36" y="-36" width="72" height="72" fill="url(#studs)"/><rect x="-30.8" y="-31.2" width="61.5" height="62.5" fill="url(#cylv)"/></g></g>
<g transform="translate(333.7 448.2) rotate(-17)"><clipPath id="rc5"><path d="M-30.8 -18.6 Q-30.2 -26.6 -25.6 -27.1 Q-21.4 -33.7 -17.1 -27.1 Q-12.8 -33.7 -8.6 -27.1 Q-4.3 -33.7 -0.0 -27.1 Q4.3 -33.7 8.5 -27.1 Q12.8 -33.7 17.1 -27.1 Q21.4 -33.7 25.6 -27.1 Q30.2 -26.6 30.8 -18.6 Q31.9 0.0 30.8 18.6 Q30.2 26.6 25.6 27.1 Q21.4 33.7 17.1 27.1 Q12.8 33.7 8.6 27.1 Q4.3 33.7 0.0 27.1 Q-4.3 33.7 -8.5 27.1 Q-12.8 33.7 -17.1 27.1 Q-21.4 33.7 -25.6 27.1 Q-30.2 26.6 -30.8 18.6 Q-31.9 0.0 -30.8 -18.6 Z" transform="rotate(90)"/></clipPath><path d="M-30.8 -18.6 Q-30.2 -26.6 -25.6 -27.1 Q-21.4 -33.7 -17.1 -27.1 Q-12.8 -33.7 -8.6 -27.1 Q-4.3 -33.7 -0.0 -27.1 Q4.3 -33.7 8.5 -27.1 Q12.8 -33.7 17.1 -27.1 Q21.4 -33.7 25.6 -27.1 Q30.2 -26.6 30.8 -18.6 Q31.9 0.0 30.8 18.6 Q30.2 26.6 25.6 27.1 Q21.4 33.7 17.1 27.1 Q12.8 33.7 8.6 27.1 Q4.3 33.7 0.0 27.1 Q-4.3 33.7 -8.5 27.1 Q-12.8 33.7 -17.1 27.1 Q-21.4 33.7 -25.6 27.1 Q-30.2 26.6 -30.8 18.6 Q-31.9 0.0 -30.8 -18.6 Z" transform="rotate(90)" fill="#aa58d0"/><g clip-path="url(#rc5)"><rect x="-36" y="-36" width="72" height="72" fill="url(#studs)"/><rect x="-30.2" y="-32.8" width="60.5" height="65.5" fill="url(#cylv)"/></g></g>
<g transform="translate(486.0 288.8) rotate(-16.5)"><clipPath id="rc6"><path d="M-30.2 -18.6 Q-29.8 -26.6 -25.1 -27.1 Q-21.0 -33.7 -16.8 -27.1 Q-12.6 -33.7 -8.4 -27.1 Q-4.2 -33.7 0.0 -27.1 Q4.2 -33.7 8.4 -27.1 Q12.6 -33.7 16.8 -27.1 Q21.0 -33.7 25.1 -27.1 Q29.8 -26.6 30.2 -18.6 Q31.4 0.0 30.2 18.6 Q29.8 26.6 25.1 27.1 Q21.0 33.7 16.8 27.1 Q12.6 33.7 8.4 27.1 Q4.2 33.7 0.0 27.1 Q-4.2 33.7 -8.4 27.1 Q-12.6 33.7 -16.8 27.1 Q-21.0 33.7 -25.1 27.1 Q-29.8 26.6 -30.2 18.6 Q-31.4 0.0 -30.2 -18.6 Z" transform="rotate(90)"/></clipPath><path d="M-30.2 -18.6 Q-29.8 -26.6 -25.1 -27.1 Q-21.0 -33.7 -16.8 -27.1 Q-12.6 -33.7 -8.4 -27.1 Q-4.2 -33.7 0.0 -27.1 Q4.2 -33.7 8.4 -27.1 Q12.6 -33.7 16.8 -27.1 Q21.0 -33.7 25.1 -27.1 Q29.8 -26.6 30.2 -18.6 Q31.4 0.0 30.2 18.6 Q29.8 26.6 25.1 27.1 Q21.0 33.7 16.8 27.1 Q12.6 33.7 8.4 27.1 Q4.2 33.7 0.0 27.1 Q-4.2 33.7 -8.4 27.1 Q-12.6 33.7 -16.8 27.1 Q-21.0 33.7 -25.1 27.1 Q-29.8 26.6 -30.2 18.6 Q-31.4 0.0 -30.2 -18.6 Z" transform="rotate(90)" fill="#aa58d0"/><g clip-path="url(#rc6)"><rect x="-36" y="-36" width="72" height="72" fill="url(#studs)"/><rect x="-30.2" y="-32.2" width="60.5" height="64.5" fill="url(#cylv)"/></g></g>
<g transform="translate(495.5 368.3) rotate(3)"><clipPath id="rc7"><path d="M-31.0 -19.1 Q-30.5 -27.1 -25.9 -27.6 Q-21.6 -34.2 -17.3 -27.6 Q-12.9 -34.2 -8.6 -27.6 Q-4.3 -34.2 0.0 -27.6 Q4.3 -34.2 8.6 -27.6 Q12.9 -34.2 17.3 -27.6 Q21.6 -34.2 25.9 -27.6 Q30.5 -27.1 31.0 -19.1 Q32.2 0.0 31.0 19.1 Q30.5 27.1 25.9 27.6 Q21.6 34.2 17.3 27.6 Q12.9 34.2 8.6 27.6 Q4.3 34.2 0.0 27.6 Q-4.3 34.2 -8.6 27.6 Q-12.9 34.2 -17.3 27.6 Q-21.6 34.2 -25.9 27.6 Q-30.5 27.1 -31.0 19.1 Q-32.2 0.0 -31.0 -19.1 Z" transform="rotate(90)"/></clipPath><path d="M-31.0 -19.1 Q-30.5 -27.1 -25.9 -27.6 Q-21.6 -34.2 -17.3 -27.6 Q-12.9 -34.2 -8.6 -27.6 Q-4.3 -34.2 0.0 -27.6 Q4.3 -34.2 8.6 -27.6 Q12.9 -34.2 17.3 -27.6 Q21.6 -34.2 25.9 -27.6 Q30.5 -27.1 31.0 -19.1 Q32.2 0.0 31.0 19.1 Q30.5 27.1 25.9 27.6 Q21.6 34.2 17.3 27.6 Q12.9 34.2 8.6 27.6 Q4.3 34.2 0.0 27.6 Q-4.3 34.2 -8.6 27.6 Q-12.9 34.2 -17.3 27.6 Q-21.6 34.2 -25.9 27.6 Q-30.5 27.1 -31.0 19.1 Q-32.2 0.0 -31.0 -19.1 Z" transform="rotate(90)" fill="#aa58d0"/><g clip-path="url(#rc7)"><rect x="-36" y="-36" width="72" height="72" fill="url(#studs)"/><rect x="-30.8" y="-33.0" width="61.5" height="66.0" fill="url(#cylv)"/></g></g>
<g transform="translate(473.2 448.8) rotate(17)"><clipPath id="rc8"><path d="M-31.5 -18.6 Q-31.0 -26.6 -26.4 -27.1 Q-22.0 -33.7 -17.6 -27.1 Q-13.2 -33.7 -8.8 -27.1 Q-4.4 -33.7 -0.0 -27.1 Q4.4 -33.7 8.8 -27.1 Q13.2 -33.7 17.6 -27.1 Q22.0 -33.7 26.4 -27.1 Q31.0 -26.6 31.5 -18.6 Q32.7 0.0 31.5 18.6 Q31.0 26.6 26.4 27.1 Q22.0 33.7 17.6 27.1 Q13.2 33.7 8.8 27.1 Q4.4 33.7 0.0 27.1 Q-4.4 33.7 -8.8 27.1 Q-13.2 33.7 -17.6 27.1 Q-22.0 33.7 -26.4 27.1 Q-31.0 26.6 -31.5 18.6 Q-32.7 0.0 -31.5 -18.6 Z" transform="rotate(90)"/></clipPath><path d="M-31.5 -18.6 Q-31.0 -26.6 -26.4 -27.1 Q-22.0 -33.7 -17.6 -27.1 Q-13.2 -33.7 -8.8 -27.1 Q-4.4 -33.7 -0.0 -27.1 Q4.4 -33.7 8.8 -27.1 Q13.2 -33.7 17.6 -27.1 Q22.0 -33.7 26.4 -27.1 Q31.0 -26.6 31.5 -18.6 Q32.7 0.0 31.5 18.6 Q31.0 26.6 26.4 27.1 Q22.0 33.7 17.6 27.1 Q13.2 33.7 8.8 27.1 Q4.4 33.7 0.0 27.1 Q-4.4 33.7 -8.8 27.1 Q-13.2 33.7 -17.6 27.1 Q-22.0 33.7 -26.4 27.1 Q-31.0 26.6 -31.5 18.6 Q-32.7 0.0 -31.5 -18.6 Z" transform="rotate(90)" fill="#aa58d0"/><g clip-path="url(#rc8)"><rect x="-36" y="-36" width="72" height="72" fill="url(#studs)"/><rect x="-30.2" y="-33.5" width="60.5" height="67.0" fill="url(#cylv)"/></g></g>
<circle cx="374.6" cy="114.4" r="10.9" fill="#fb0814"/>
<circle cx="323.0" cy="264.0" r="10.9" fill="#fb0814"/>
<circle cx="228.0" cy="413.6" r="10.9" fill="#fb0814"/>
</g>
<text x="38.5" y="124.3" font-size="28" textLength="144" lengthAdjust="spacingAndGlyphs">3D massage</text>
<text x="13.5" y="268.3" font-size="28" textLength="172.5" lengthAdjust="spacingAndGlyphs">360° all-round</text>
<text x="38" y="421.3" font-size="28" textLength="86.5" lengthAdjust="spacingAndGlyphs">Groove</text>
<text x="38" y="466.3" font-size="28" textLength="153" lengthAdjust="spacingAndGlyphs">non-slip grip</text>
</svg>
</body></html>
